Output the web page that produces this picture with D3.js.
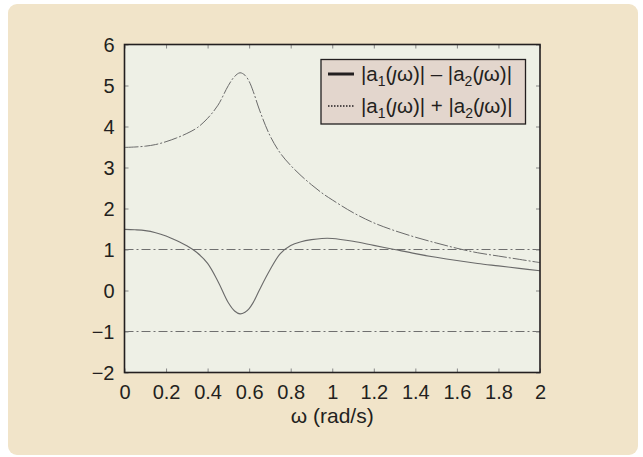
<!DOCTYPE html>
<html>
<head>
<meta charset="utf-8">
<script src="https://cdn.jsdelivr.net/npm/d3@7"></script>
<style>
  html, body { margin: 0; padding: 0; background: #ffffff; }
  svg { display: block; }
  text { font-family: "Liberation Sans", Arial, Helvetica, sans-serif; fill: #231f20; }
</style>
</head>
<body>
<svg id="chart" width="643" height="457"></svg>
<script>
// ---- data ----
const omega = [0.00, 0.05, 0.10, 0.15, 0.20, 0.25, 0.30, 0.35, 0.40, 0.45, 0.50, 0.53, 0.556, 0.58, 0.60, 0.62, 0.65, 0.70, 0.75, 0.80, 0.85, 0.90, 0.95, 1.00, 1.10, 1.20, 1.30, 1.40, 1.50, 1.60, 1.70, 1.80, 1.90, 2.00];
const sumValues = [3.49, 3.50, 3.52, 3.56, 3.63, 3.72, 3.83, 3.97, 4.20, 4.52, 5.00, 5.22, 5.31, 5.25, 5.10, 4.85, 4.40, 3.78, 3.35, 3.05, 2.80, 2.58, 2.38, 2.21, 1.90, 1.65, 1.46, 1.30, 1.16, 1.03, 0.92, 0.84, 0.76, 0.68];
const diffValues = [1.49, 1.48, 1.46, 1.41, 1.33, 1.22, 1.09, 0.92, 0.66, 0.22, -0.30, -0.50, -0.57, -0.53, -0.44, -0.29, 0.02, 0.50, 0.90, 1.10, 1.19, 1.24, 1.27, 1.27, 1.20, 1.10, 1.00, 0.90, 0.81, 0.73, 0.66, 0.60, 0.54, 0.48];
const refLevels = [1, -1];
const xTicks = [0, 0.2, 0.4, 0.6, 0.8, 1, 1.2, 1.4, 1.6, 1.8, 2];
const yTicks = [-2, -1, 0, 1, 2, 3, 4, 5, 6];
const xLabel = "\u03c9 (rad/s)";

// ---- layout ----
const svg = d3.select("#chart");
const plot = { left: 124.5, top: 44.5, right: 540, bottom: 372.5 };

// panel background
svg.append("rect").attr("x", 8).attr("y", 4).attr("width", 630).attr("height", 451)
  .attr("rx", 9).attr("fill", "#f1e4c9");

const x = d3.scaleLinear().domain([0, 2]).range([plot.left, plot.right]);
const y = d3.scaleLinear().domain([-2, 6]).range([plot.bottom, plot.top]);

// plot background
svg.append("rect").attr("x", plot.left).attr("y", plot.top)
  .attr("width", plot.right - plot.left).attr("height", plot.bottom - plot.top)
  .attr("fill", "#eef0e6");

// reference lines
svg.selectAll(".ref").data(refLevels).enter().append("line")
  .attr("x1", x(0)).attr("x2", x(2))
  .attr("y1", d => y(d)).attr("y2", d => y(d))
  .attr("stroke", "#6f6f6f").attr("stroke-width", 1)
  .attr("stroke-dasharray", "9,3,2,3");

const lineGen = vals => d3.line()
  .x((d, i) => x(omega[i])).y(d => y(d))
  .curve(d3.curveCatmullRom.alpha(0.5))(vals);

svg.append("path").attr("d", lineGen(sumValues))
  .attr("fill", "none").attr("stroke", "#6a6a6a").attr("stroke-width", 1)
  .attr("stroke-dasharray", "14,2,2,2");

svg.append("path").attr("d", lineGen(diffValues))
  .attr("fill", "none").attr("stroke", "#6a6a6a").attr("stroke-width", 1.1);

// axes (inward ticks, mirrored)
const tickLen = 4;
const gx = svg.append("g").attr("transform", `translate(0,${plot.bottom})`)
  .call(d3.axisBottom(x).tickValues(xTicks).tickSizeInner(-tickLen).tickSizeOuter(0).tickPadding(12)
    .tickFormat(d => d3.format("")(d)));
const gxt = svg.append("g").attr("transform", `translate(0,${plot.top})`)
  .call(d3.axisTop(x).tickValues(xTicks).tickSizeInner(-tickLen).tickSizeOuter(0).tickFormat(""));
const gy = svg.append("g").attr("transform", `translate(${plot.left},0)`)
  .call(d3.axisLeft(y).tickValues(yTicks).tickSizeInner(-tickLen).tickSizeOuter(0).tickPadding(10)
    .tickFormat(d => d < 0 ? "\u2212" + Math.abs(d) : String(d)));
const gyr = svg.append("g").attr("transform", `translate(${plot.right},0)`)
  .call(d3.axisRight(y).tickValues(yTicks).tickSizeInner(-tickLen).tickSizeOuter(0).tickFormat(""));

[gx, gxt, gy, gyr].forEach(g => {
  g.select(".domain").remove();
  g.selectAll(".tick line").attr("stroke", "#888").attr("stroke-width", 1);
  g.selectAll(".tick text").attr("font-size", 20).attr("fill", "#231f20")
    .attr("font-family", "'Liberation Sans', Arial, sans-serif");
});
gx.selectAll(".tick text").attr("dy", "0.71em");
gy.selectAll(".tick text").attr("dy", "0.36em");

// frame
svg.append("rect").attr("x", plot.left).attr("y", plot.top)
  .attr("width", plot.right - plot.left).attr("height", plot.bottom - plot.top)
  .attr("fill", "none").attr("stroke", "#231f20").attr("stroke-width", 1.6);

// x label
svg.append("text").attr("x", (plot.left + plot.right) / 2).attr("y", 423)
  .attr("text-anchor", "middle").attr("font-size", 21).text(xLabel);

// legend
const lg = svg.append("g");
lg.append("rect").attr("x", 321).attr("y", 59.5).attr("width", 204.5).attr("height", 64.5)
  .attr("fill", "#e3d6cd").attr("stroke", "#231f20").attr("stroke-width", 1.3);
const legendItems = [
  { op: " \u2013 ", dash: null, w: 3, ty: 81 },
  { op: " + ", dash: "1.5,1.5", w: 1.5, ty: 113 }
];
legendItems.forEach(item => {
  lg.append("line").attr("x1", 328).attr("x2", 354)
    .attr("y1", item.ty - 7).attr("y2", item.ty - 7)
    .attr("stroke", "#231f20").attr("stroke-width", item.w)
    .attr("stroke-dasharray", item.dash);
  const t = lg.append("text").attr("x", 361).attr("y", item.ty).attr("font-size", 20.5);
  const parts = [
    ["|a", 0], ["1", 1], ["(", 0], ["\u0237", 2], ["\u03c9)|" + item.op + "|a", 0], ["2", 1], ["(", 0], ["\u0237", 2], ["\u03c9)|", 0]
  ];
  let sub = false;
  parts.forEach(([s, k]) => {
    const ts = t.append("tspan").text(s);
    if (k === 1) { ts.attr("font-size", 14).attr("dy", 5); sub = true; }
    else {
      if (sub) { ts.attr("dy", -5); sub = false; }
      if (k === 2) ts.attr("font-style", "italic");
    }
  });
});
</script>
</body>
</html>
